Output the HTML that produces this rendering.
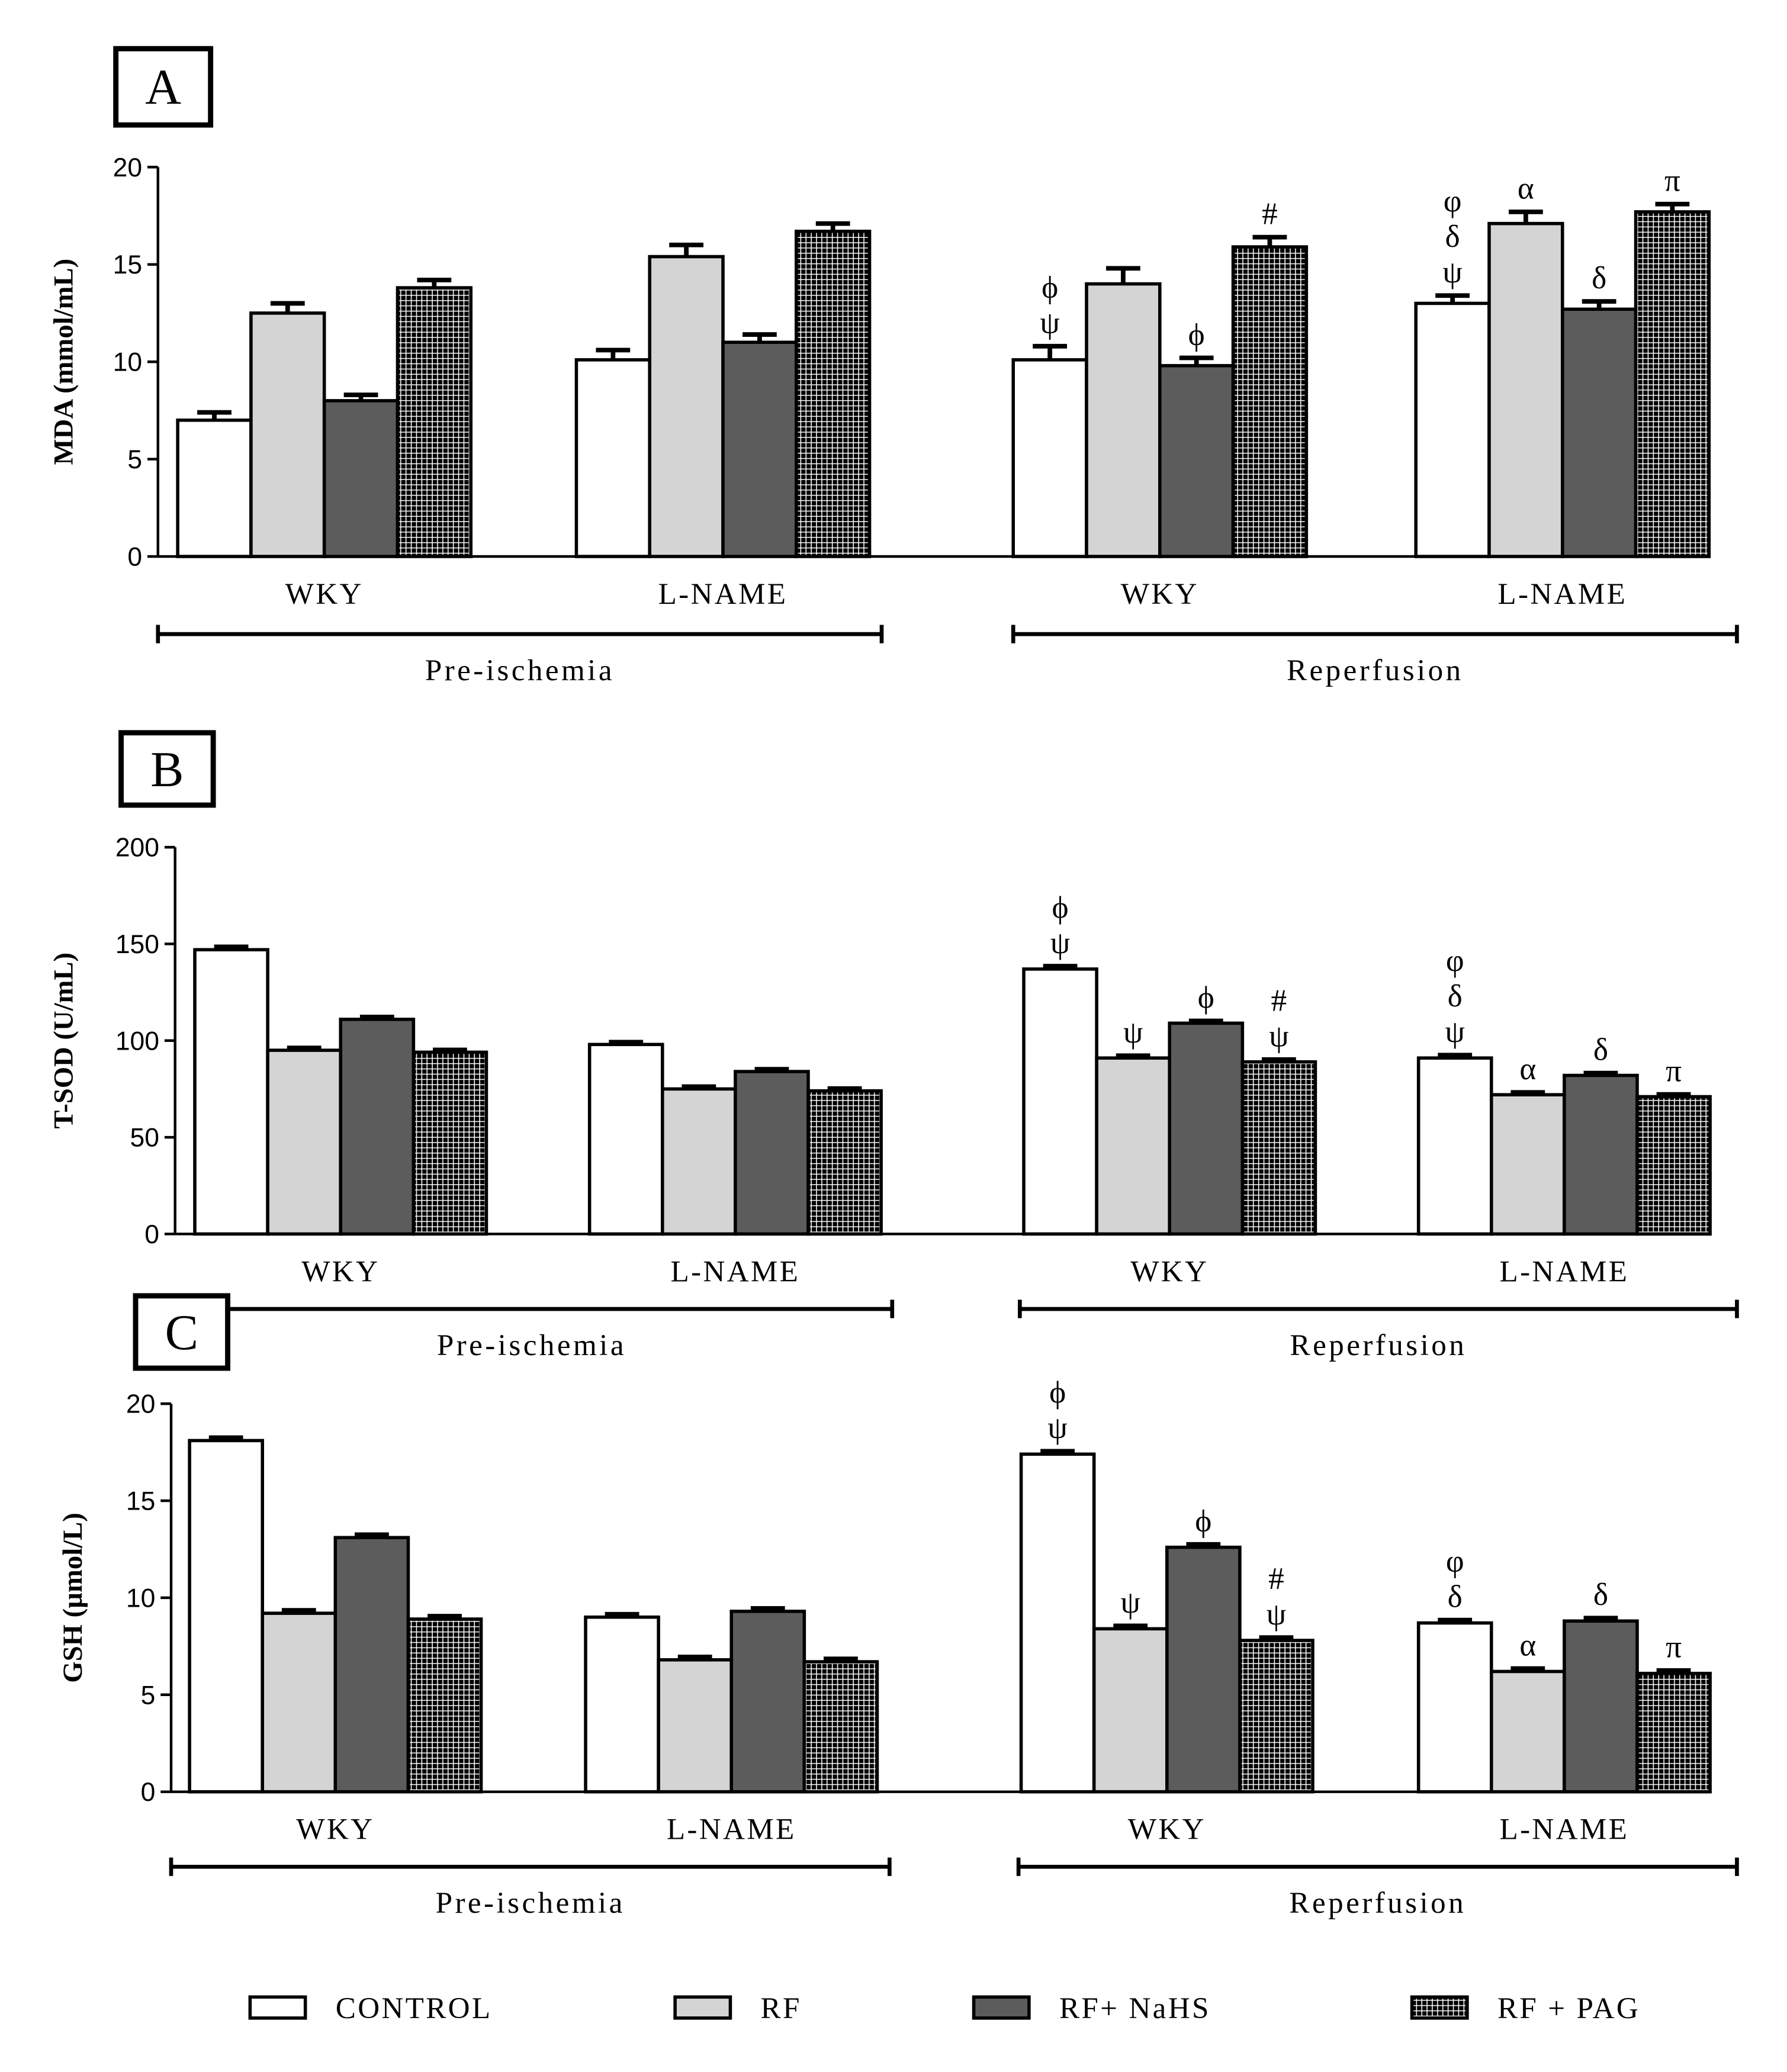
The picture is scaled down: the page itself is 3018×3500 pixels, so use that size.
<!DOCTYPE html>
<html><head><meta charset="utf-8"><style>
html,body{margin:0;padding:0;background:#fff;}
svg{display:block;}
.serif{font-family:"Liberation Serif","DejaVu Serif",serif;}
.sans{font-family:"Liberation Sans","DejaVu Sans",sans-serif;}
</style></head><body>
<svg id="chart" width="3018" height="3500" viewBox="0 0 1358 1575" xmlns="http://www.w3.org/2000/svg">
<defs>
<pattern id="grid" width="4" height="4" patternUnits="userSpaceOnUse">
<rect width="4" height="4" fill="#000"/>
<path d="M0 0.5H4M0.5 0V4" stroke="#fff" stroke-width="0.7"/>
</pattern>
</defs>
</svg>
<script>
// ---- data ----
const categories = ["WKY","L-NAME","WKY","L-NAME"];
const series = ["CONTROL","RF","RF+ NaHS","RF + PAG"];
const mdaValues = [[7.0,12.5,8.0,13.8],[10.1,15.4,11.0,16.7],[10.1,14.0,9.8,15.9],[13.0,17.1,12.7,17.7]];
const mdaErrors = [[0.4,0.5,0.3,0.4],[0.5,0.6,0.4,0.4],[0.7,0.8,0.4,0.5],[0.4,0.6,0.4,0.4]];
const sodValues = [[147,95,111,94],[98,75,84,74],[137,91,109,89],[91,72,82,71]];
const sodErrors = [[1.5,1.2,1.2,1.2],[1.2,1.2,1.2,1.2],[1.5,1.2,1.2,1.2],[1.5,1.2,1.2,1.2]];
const gshValues = [[18.1,9.2,13.1,8.9],[9.0,6.8,9.3,6.7],[17.4,8.4,12.6,7.8],[8.7,6.2,8.8,6.1]];
const gshErrors = [[0.15,0.15,0.15,0.15],[0.15,0.15,0.15,0.15],[0.15,0.15,0.15,0.15],[0.15,0.15,0.15,0.15]];
const mdaTicks = [0,5,10,15,20];
const sodTicks = [0,50,100,150,200];
const gshTicks = [0,5,10,15,20];
const mdaMarks = [[[],[],[],[]],[[],[],[],[]],[["ψ","ϕ"],[],["ϕ"],["#"]],[["ψ","δ","φ"],["α"],["δ"],["π"]]];
const sodMarks = [[[],[],[],[]],[[],[],[],[]],[["ψ","ϕ"],["ψ"],["ϕ"],["ψ","#"]],[["ψ","δ","φ"],["α"],["δ"],["π"]]];
const gshMarks = [[[],[],[],[]],[[],[],[],[]],[["ψ","ϕ"],["ψ"],["ϕ"],["ψ","#"]],[["δ","φ"],["α"],["δ"],["π"]]];

const svg = document.getElementById('chart');
const NS = 'http://www.w3.org/2000/svg';
function mk(tag, attrs, parent){const e=document.createElementNS(NS,tag);for(const k in attrs)e.setAttribute(k,attrs[k]);(parent||svg).appendChild(e);return e;}
const fills = ["#fff","#d4d4d4","#5c5c5c","url(#grid)"];

function panel(cfg){
  const g = mk('g',{});
  
  
  const y = v => cfg.y0 - (v/cfg.max)*(cfg.y0-cfg.y1);
  const bx = mk('rect',{x:cfg.box[0],y:cfg.box[1],width:cfg.box[2],height:cfg.box[3],fill:'#fff',stroke:'#000','stroke-width':4},g);
  
  
  const lt = mk('text',{class:'serif',x:cfg.box[0]+cfg.box[2]/2,y:cfg.box[1]+cfg.box[3]/2+13,'text-anchor':'middle','font-size':38},g);
  lt.textContent = cfg.letter;
  
  
  const ax = mk('line',{x1:cfg.ax,y1:cfg.y1,x2:cfg.ax,y2:cfg.y0,stroke:'#000','stroke-width':2},g);
  
  
  const bl = mk('line',{x1:cfg.ax,y1:cfg.y0,x2:1300,y2:cfg.y0,stroke:'#000','stroke-width':2},g);
  
  
  cfg.ticks.forEach(t=>{
    const tl = mk('line',{x1:cfg.ax-8,y1:y(t),x2:cfg.ax,y2:y(t),stroke:'#000','stroke-width':2},g);
    
    
    const tt = mk('text',{class:'sans',x:cfg.ax-12,y:y(t)+7,'text-anchor':'end','font-size':20},g);
    tt.textContent = t;
    
    
  });
  const yt = mk('text',{class:'serif',x:0,y:0,'text-anchor':'middle','font-size':21,'font-weight':'bold',transform:`translate(${cfg.titleX},${(cfg.y0+cfg.y1)/2}) rotate(-90)`},g);
  yt.textContent = cfg.title;
  
  
  cfg.values.forEach((grp,gi)=>{
    grp.forEach((v,bi)=>{
      const x = cfg.starts[gi] + bi*cfg.bw;
      const top = y(v);
      const r = mk('rect',{x:x,y:top,width:cfg.bw,height:cfg.y0-top,fill:fills[bi],stroke:'#000','stroke-width':2.5},g);
      
      
      const et = y(v+cfg.errors[gi][bi]);
      const cx = x+cfg.bw/2;
      const el = mk('path',{d:`M${cx} ${top}V${et}M${cx-13} ${et}H${cx+13}`,stroke:'#000','stroke-width':3.5,fill:'none'},g);
      
      
      cfg.marks[gi][bi].forEach((s,si)=>{
        const mt = mk('text',{class:'serif',x:cx,y:et-10-si*27,'text-anchor':'middle','font-size':24},g);
        mt.textContent = s;
        
        
      });
    });
    const c = cfg.starts[gi] + 2*cfg.bw;
    const xl = mk('text',{class:'serif',x:c,y:cfg.y0+36,'text-anchor':'middle','font-size':23,'letter-spacing':1.5},g);
    xl.textContent = categories[gi];
    
    
  });
  [[cfg.br[0],cfg.br[1],'Pre-ischemia'],[cfg.br[2],cfg.br[3],'Reperfusion']].forEach(b=>{
    const p = mk('path',{d:`M${b[0]} ${cfg.brY-7}V${cfg.brY+7}M${b[0]} ${cfg.brY}H${b[1]}M${b[1]} ${cfg.brY-7}V${cfg.brY+7}`,stroke:'#000','stroke-width':3,fill:'none'},g);
    
    
    const t = mk('text',{class:'serif',x:(b[0]+b[1])/2,y:cfg.brY+35,'text-anchor':'middle','font-size':23,'letter-spacing':2},g);
    t.textContent = b[2];
    
    
  });
}

panel({name:'panel-a-mda',letter:'A',box:[88,37,72,58],ax:120,y0:423,y1:127,max:20,ticks:mdaTicks,title:'MDA (mmol/mL)',titleX:55,
  starts:[135,438,770,1076],bw:55.7,values:mdaValues,errors:mdaErrors,marks:mdaMarks,br:[120,670,770,1320],brY:482});
panel({name:'panel-b-tsod',letter:'B',box:[92,557,70,55],ax:133,y0:938,y1:644,max:200,ticks:sodTicks,title:'T-SOD (U/mL)',titleX:55,
  starts:[148,448,778,1078],bw:55.4,values:sodValues,errors:sodErrors,marks:sodMarks,br:[130,678,775,1320],brY:995});
panel({name:'panel-c-gsh',letter:'C',box:[103,985,70,55],ax:130,y0:1362,y1:1067,max:20,ticks:gshTicks,title:'GSH (µmol/L)',titleX:62,
  starts:[144,445,776,1078],bw:55.4,values:gshValues,errors:gshErrors,marks:gshMarks,br:[130,676,774,1320],brY:1419});

const lx = [190,513,740,1073];
series.forEach((s,i)=>{
  const r = mk('rect',{x:lx[i],y:1518,width:42,height:16,fill:fills[i],stroke:'#000','stroke-width':2.5});
  
  
  const t = mk('text',{class:'serif',x:lx[i]+65,y:1534,'font-size':23,'letter-spacing':1.5});
  t.textContent = s;
  
  
});
</script>
</body></html>
